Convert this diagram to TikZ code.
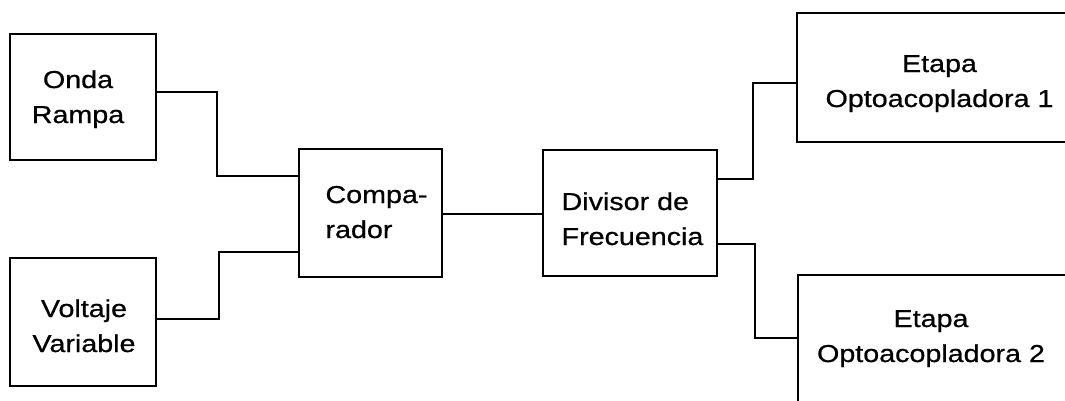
\documentclass[tikz,border=0pt]{standalone}
\usepackage{fontspec}
\setmainfont{Liberation Sans}[FakeStretch=1.17,FakeBold=0.7]
\begin{document}
\begin{tikzpicture}[x=1pt,y=-1pt,line width=1.7pt,
  blk/.style={draw=black,inner sep=0pt,outer sep=0pt},
  txt/.style={inner sep=0pt,font=\fontsize{24.5}{35}\selectfont,text height=18pt,text depth=6pt},
  wire/.style={draw=black,line join=miter}]
\useasboundingbox (0,0) rectangle (1065,400);
\fill[white] (0,0) rectangle (1065,400);
\clip (0,0) rectangle (1065,400);
% boxes
\node[blk,minimum width=146pt,minimum height=126pt] (onda) at (83,97) {};
\node[blk,minimum width=146pt,minimum height=128pt] (volt) at (83,322) {};
\node[blk,minimum width=143pt,minimum height=128pt] (comp) at (370.5,213) {};
\node[blk,minimum width=174pt,minimum height=126pt] (div) at (630,213) {};
\node[blk,minimum width=285pt,minimum height=129pt] (et1) at (939.5,77.5) {};
\node[blk,minimum width=272pt,minimum height=129pt] (et2) at (934,339.5) {};
% texts
\node[txt,align=center] (ondat) at (78,117) {Onda\\Rampa};
\node[txt,align=center] (voltt) at (84,346) {Voltaje\\Variable};
\node[txt,align=left] (compt) at (376.5,232) {Compa-\\rador};
\node[txt,align=left] (divt) at (632.5,239) {Divisor de\\Frecuencia};
\node[txt,align=center] (et1t) at (939.5,101) {Etapa\\Optoacopladora 1};
\node[txt,align=center] (et2t) at (931,356) {Etapa\\Optoacopladora 2};
% connectors
\coordinate (a1) at (217,92);
\coordinate (a2) at (217,176);
\coordinate (b1) at (219,319);
\coordinate (b2) at (219,252);
\coordinate (c1) at (500,214);
\coordinate (d1) at (753,179);
\coordinate (d2) at (753,83);
\coordinate (e1) at (755,244);
\coordinate (e2) at (755,338);
\draw[wire] (onda.east |- a1) -- (a1) -- (a2) -- (comp.west |- a2);
\draw[wire] (volt.east |- b1) -- (b1) -- (b2) -- (comp.west |- b2);
\draw[wire] (comp.east |- c1) -- (div.west |- c1);
\draw[wire] (div.east |- d1) -- (d1) -- (d2) -- (et1.west |- d2);
\draw[wire] (div.east |- e1) -- (e1) -- (e2) -- (et2.west |- e2);
\end{tikzpicture}
\end{document}
